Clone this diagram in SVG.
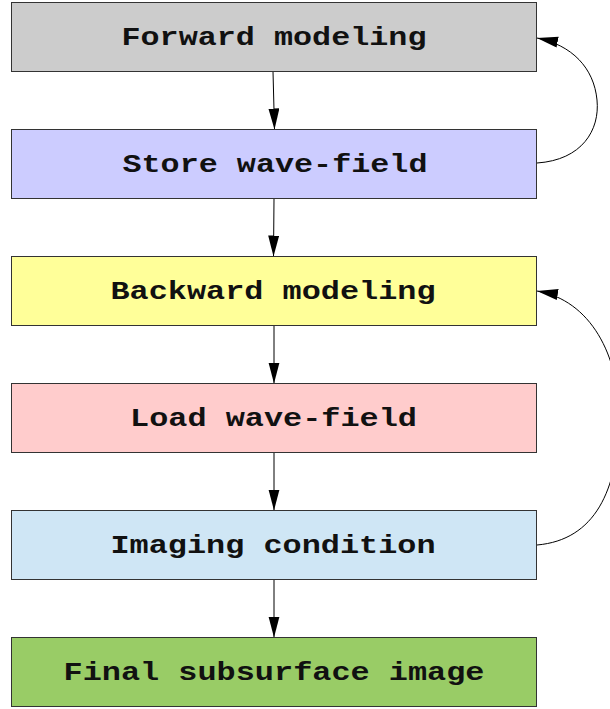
<svg xmlns="http://www.w3.org/2000/svg" width="610" height="709" viewBox="0 0 610 709">
<defs>
<style>
.box{stroke:#333;stroke-width:1}
.lbl{font-family:"Liberation Mono","DejaVu Sans Mono",monospace;font-weight:bold;font-size:25px;fill:#111;text-anchor:middle}
.con{fill:none;stroke:#000;stroke-width:1}
</style>
<marker id="ah" markerUnits="userSpaceOnUse" markerWidth="22" markerHeight="12" refX="21" refY="5.5" orient="auto">
<path d="M0,0 L21,5.5 L0,11 z" fill="#000"/>
</marker>
</defs>
<rect width="610" height="709" fill="#fff"/>
<g id="connectors">
<path class="con" d="M273,71.5 L274.5,129.5" marker-end="url(#ah)"/>
<path class="con" d="M274,198.5 L273.5,256.5" marker-end="url(#ah)"/>
<path class="con" d="M274,325.5 L274,383.5" marker-end="url(#ah)"/>
<path class="con" d="M274,452.5 L274,510.5" marker-end="url(#ah)"/>
<path class="con" d="M274,579.5 L274,637.5" marker-end="url(#ah)"/>
<path class="con" d="M537,163 C582,160 600,130 597,100 C594,68 572,45 537,38" marker-end="url(#ah)"/>
<path class="con" d="M537,545 C595,540 618,490 619,420 C620,355 590,300 537,291" marker-end="url(#ah)"/>
</g>
<g id="n1"><rect class="box" x="11.5" y="2.5" width="525" height="69" fill="#cccccc"/><text class="lbl" x="274" y="45" textLength="305" lengthAdjust="spacingAndGlyphs">Forward modeling</text></g>
<g id="n2"><rect class="box" x="11.5" y="129.5" width="525" height="69" fill="#ccccff"/><text class="lbl" x="275" y="172" textLength="305" lengthAdjust="spacingAndGlyphs">Store wave-field</text></g>
<g id="n3"><rect class="box" x="11.5" y="256.5" width="525" height="69" fill="#ffff99"/><text class="lbl" x="273" y="299" textLength="325" lengthAdjust="spacingAndGlyphs">Backward modeling</text></g>
<g id="n4"><rect class="box" x="11.5" y="383.5" width="525" height="69" fill="#ffcccc"/><text class="lbl" x="273.5" y="426" textLength="287" lengthAdjust="spacingAndGlyphs">Load wave-field</text></g>
<g id="n5"><rect class="box" x="11.5" y="510.5" width="525" height="69" fill="#cfe6f5"/><text class="lbl" x="273" y="553" textLength="325" lengthAdjust="spacingAndGlyphs">Imaging condition</text></g>
<g id="n6"><rect class="box" x="11.5" y="637.5" width="525" height="69" fill="#99cc66"/><text class="lbl" x="274" y="680" textLength="421" lengthAdjust="spacingAndGlyphs">Final subsurface image</text></g>
</svg>
